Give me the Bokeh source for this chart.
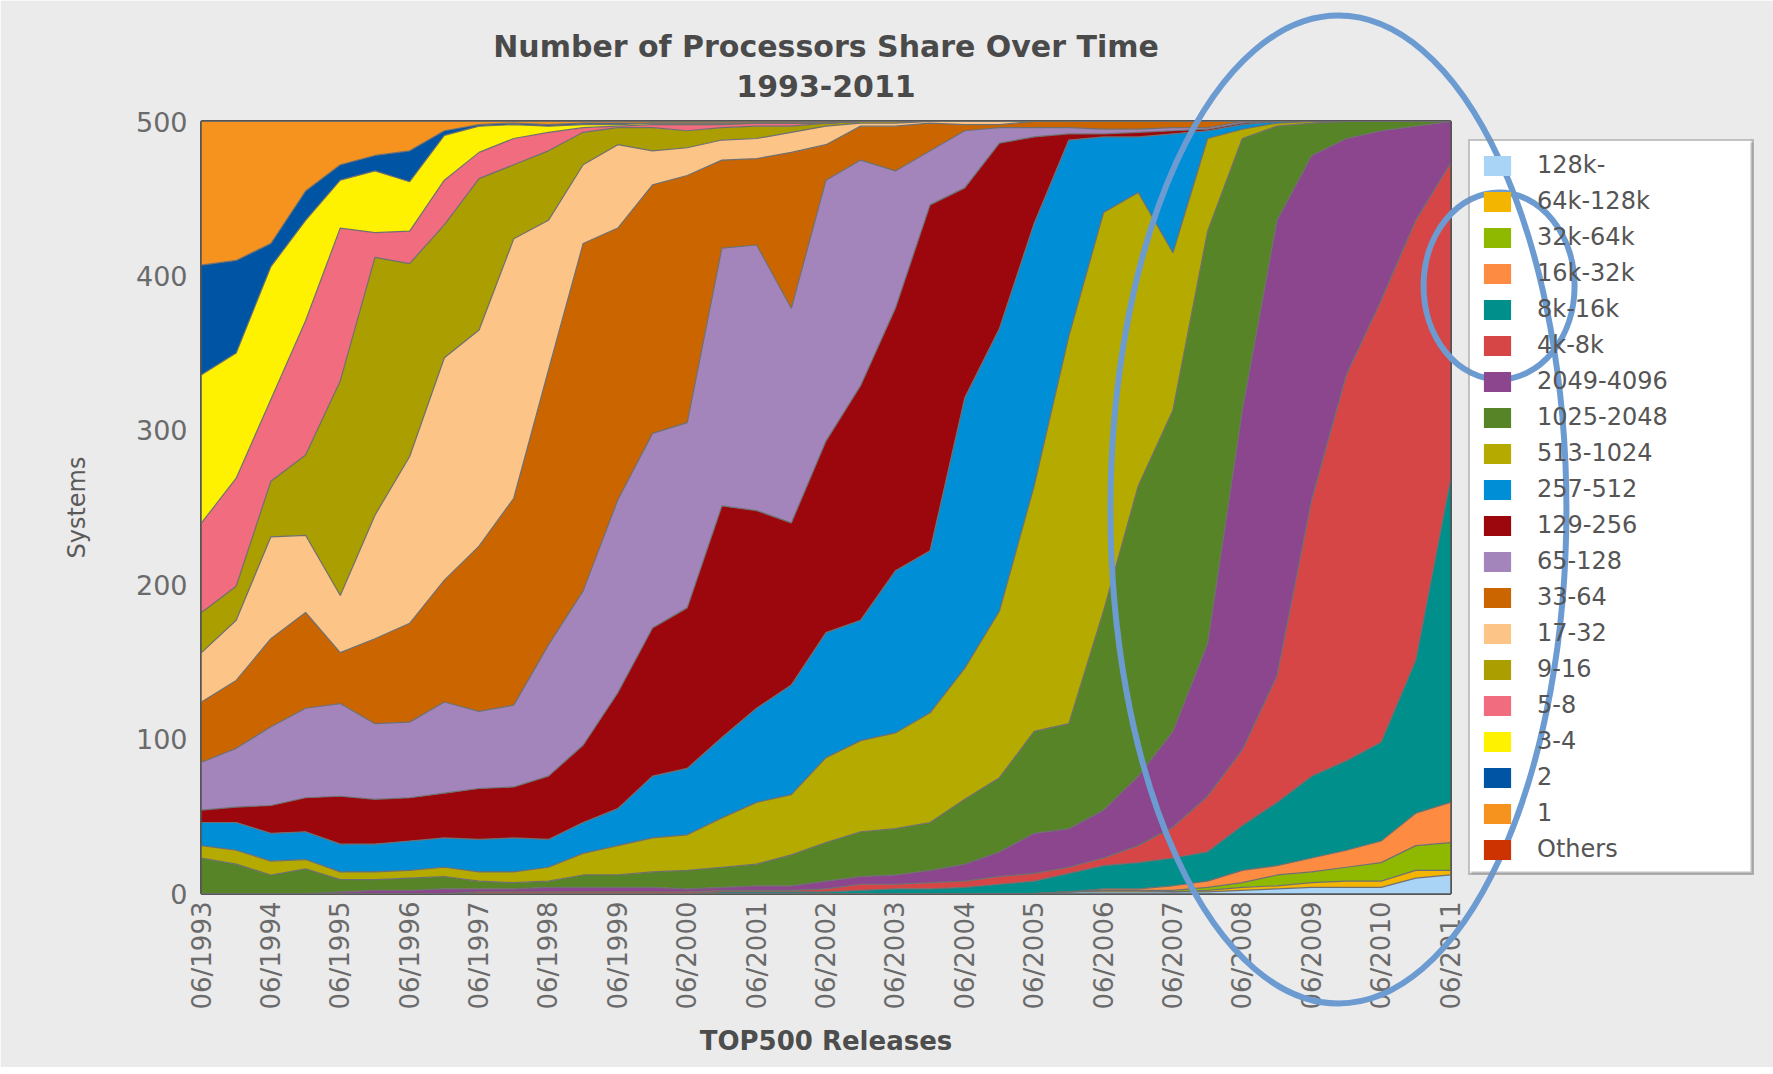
import numpy as np
from bokeh.plotting import figure
from bokeh.models import ColumnDataSource, Legend, FixedTicker, Range1d
from bokeh.core.properties import value
from bokeh.embed import file_html
from bokeh.resources import INLINE

# ---------------- data ----------------
releases = ["06/1993", "11/1993", "06/1994", "11/1994", "06/1995", "11/1995", "06/1996", "11/1996",
            "06/1997", "11/1997", "06/1998", "11/1998", "06/1999", "11/1999", "06/2000", "11/2000",
            "06/2001", "11/2001", "06/2002", "11/2002", "06/2003", "11/2003", "06/2004", "11/2004",
            "06/2005", "11/2005", "06/2006", "11/2006", "06/2007", "11/2007", "06/2008", "11/2008",
            "06/2009", "11/2009", "06/2010", "11/2010", "06/2011"]

# systems per processor-count class (stacked bottom -> top)
s_128k = [0]*25 + [1, 1, 1, 1, 1, 2, 3, 4, 4, 4, 10, 12]
s_64k_128k = [0]*25 + [0, 1, 1, 0, 1, 2, 2, 3, 4, 4, 5, 3]
s_32k_64k = [0]*25 + [0, 0, 0, 1, 2, 3, 7, 7, 9, 12, 16, 18]
s_16k_32k = [0]*25 + [0, 1, 1, 3, 4, 8, 6, 9, 11, 14, 21, 26]
s_8k_16k = [0]*15 + [1, 1, 1, 1, 2, 3, 3, 4, 6, 8, 12, 15, 17, 18, 19, 29, 41, 53, 58, 64, 99, 209]
s_4k_8k = [0]*8 + [1, 1, 1, 1, 1, 1, 1, 1, 1, 1, 2, 4, 3, 4, 4, 5, 5, 4, 5, 11, 20, 36, 49, 82,
                   179, 250, 286, 285, 205]
s_2049_4096 = [0, 0, 0, 0, 1, 2, 2, 3, 2, 2, 3, 3, 3, 3, 2, 2, 3, 3, 5, 5, 6, 8, 11, 16, 26, 25,
               31, 45, 62, 99, 220, 295, 223, 153, 110, 61, 27]
s_1025_2048 = [23, 19, 12, 16, 8, 7, 8, 8, 5, 4, 4, 8, 8, 10, 12, 13, 14, 20, 25, 29, 30, 31, 42,
               48, 66, 68, 129, 188, 208, 267, 176, 61, 21, 11, 6, 3, 0]
s_513_1024 = [8, 9, 9, 6, 5, 5, 5, 6, 6, 7, 9, 14, 19, 22, 23, 32, 40, 39, 55, 59, 62, 71, 85,
              108, 159, 251, 258, 190, 102, 60, 6, 2, 1, 0, 0, 0, 0]
s_257_512 = [15, 18, 18, 18, 18, 18, 19, 19, 21, 22, 18, 20, 24, 40, 43, 52, 61, 71, 81, 78, 105,
             105, 175, 183, 170, 127, 49, 36, 77, 5, 3, 1, 0, 0, 0, 0, 0]
s_129_256 = [8, 10, 18, 22, 31, 29, 28, 29, 33, 33, 41, 50, 75, 96, 104, 150, 128, 105, 124, 152,
             170, 224, 136, 120, 56, 4, 2, 3, 2, 1, 1, 0, 0, 0, 0, 0, 0]
s_65_128 = [31, 38, 51, 58, 60, 49, 49, 59, 50, 53, 85, 100, 125, 126, 120, 167, 172, 139, 169,
            146, 89, 35, 37, 10, 6, 4, 3, 2, 2, 1, 1, 0, 0, 0, 0, 0, 0]
s_33_64 = [39, 44, 57, 62, 33, 55, 64, 79, 107, 134, 178, 225, 176, 161, 160, 57, 56, 101, 23,
           22, 29, 18, 4, 2, 4, 4, 5, 5, 4, 4, 0, 0, 0, 0, 0, 0, 0]
s_17_32 = [32, 39, 66, 50, 37, 80, 108, 144, 140, 168, 97, 51, 54, 22, 18, 13, 13, 13, 12, 2, 2,
           1, 2, 2] + [0]*13
s_9_16 = [26, 22, 36, 52, 139, 167, 125, 86, 98, 48, 45, 21, 11, 15, 11, 8, 8, 4, 2, 1, 1] + [0]*16
s_5_8 = [58, 70, 53, 87, 99, 16, 21, 29, 17, 17, 12, 3, 1, 2, 4, 2, 2, 2] + [0]*19
s_3_4 = [96, 81, 86, 65, 31, 40, 32, 29, 17, 9, 4, 2, 1, 1, 1, 1] + [0]*21
s_2 = [71, 60, 15, 19, 10, 10, 20, 3, 1, 1, 1, 1, 1] + [0]*24
s_1 = [93, 90, 79, 45, 28, 22, 19, 6, 2, 1, 2, 1, 1, 1, 1, 1, 1, 1, 1] + [0]*18
s_others = [0]*37

series_names = ["128k-", "64k-128k", "32k-64k", "16k-32k", "8k-16k", "4k-8k", "2049-4096",
                "1025-2048", "513-1024", "257-512", "129-256", "65-128", "33-64", "17-32",
                "9-16", "5-8", "3-4", "2", "1", "Others"]
series_values = [s_128k, s_64k_128k, s_32k_64k, s_16k_32k, s_8k_16k, s_4k_8k, s_2049_4096,
                 s_1025_2048, s_513_1024, s_257_512, s_129_256, s_65_128, s_33_64, s_17_32,
                 s_9_16, s_5_8, s_3_4, s_2, s_1, s_others]
colors = ["#aad4f6", "#f3b500", "#8eb900", "#fd8c42", "#008f8a", "#d64646", "#8c468e",
          "#578427", "#b4aa00", "#008ed6", "#9c070d", "#a385bc", "#cb6500", "#fcc587",
          "#aa9e00", "#f06c7e", "#fff200", "#0054a4", "#f6921e", "#cc3300"]

title_lines = ["Number of Processors Share Over Time", "1993-2011"]

# highlight ellipses drawn over the chart: centre (release index, systems), size in pixels
ring_x = [32.77, 37.40]
ring_y = [248.7, 393.5]
ring_w = [456, 151]
ring_h = [988, 187]

FONT = "DejaVu Sans"

# ---------------- figure ----------------
data = {"x": list(range(len(releases)))}
for name, vals in zip(series_names, series_values):
    data[name] = vals
src = ColumnDataSource(data)

n = len(releases) - 1
p = figure(frame_width=1249, frame_height=772,
           x_range=Range1d(0, n), y_range=Range1d(0, 500),
           output_backend="svg", toolbar_location=None,
           min_border_left=201, min_border_right=319, min_border_top=121, min_border_bottom=174)
p.border_fill_color = "#ebebeb"
p.background_fill_color = "#ffffff"
p.outline_line_color = "#555555"
p.outline_line_width = 3
p.grid.visible = False

p.varea_stack(stackers=series_names, x="x", color=colors, source=src, legend_label=series_names)
p.vline_stack(stackers=series_names, x="x", color="#6f6f6f", line_width=1.2, source=src)

# title (drawn as overlay text centred over the frame)
p.text(x=[n / 2, n / 2], y=[500, 500], text=title_lines, y_offset=[-75, -36],
       text_font=value(FONT), text_font_size="30px", text_font_style="bold",
       text_color="#4a4a4a", text_align="center", text_baseline="middle", level="overlay")

# legend panel: soft shadow, white face (legend itself is transparent), then rings on top
px_x = 1249 / n
px_y = 772 / 500
p.rect(x=[n + 162 / px_x], y=[500 - 387 / px_y], width=[282], height=[732],
       width_units="screen", height_units="screen", fill_color="#9a9a9a", fill_alpha=0.55,
       line_color=None, level="overlay")
p.rect(x=[n + 159 / px_x], y=[500 - 384 / px_y], width=[282], height=[732],
       width_units="screen", height_units="screen", fill_color="#ffffff", line_color=None,
       level="overlay")
p.ellipse(x=ring_x, y=ring_y, width=ring_w, height=ring_h, width_units="screen",
          height_units="screen", fill_color=None, line_color="#6c9bd2", line_width=6,
          level="overlay")

# axes
p.yaxis.ticker = FixedTicker(ticks=[0, 100, 200, 300, 400, 500])
p.yaxis.major_label_text_font = FONT
p.yaxis.major_label_text_font_size = "27px"
p.yaxis.major_label_text_color = "#6a6a6a"
p.yaxis.major_label_standoff = 14
p.yaxis.axis_label = "Systems"
p.yaxis.axis_label_text_font = FONT
p.yaxis.axis_label_text_font_size = "24px"
p.yaxis.axis_label_text_font_style = "normal"
p.yaxis.axis_label_text_color = "#5a5a5a"
p.yaxis.axis_label_standoff = 42

june_idx = list(range(0, len(releases), 2))
p.xaxis.ticker = FixedTicker(ticks=june_idx)
p.xaxis.major_label_overrides = {i: releases[i] for i in june_idx}
p.xaxis.major_label_orientation = np.pi / 2
p.xaxis.major_label_text_font = FONT
p.xaxis.major_label_text_font_size = "26px"
p.xaxis.major_label_text_color = "#6a6a6a"
p.xaxis.major_label_standoff = 8
p.xaxis.axis_label = "TOP500 Releases"
p.xaxis.axis_label_text_font = FONT
p.xaxis.axis_label_text_font_size = "26px"
p.xaxis.axis_label_text_font_style = "bold"
p.xaxis.axis_label_text_color = "#4d4d4d"
p.xaxis.axis_label_standoff = 13

for ax in (p.xaxis[0], p.yaxis[0]):
    ax.axis_line_color = None
    ax.major_tick_line_color = None
    ax.minor_tick_line_color = None
    ax.major_tick_out = 0
    ax.major_tick_in = 0

# legend to the right of the frame
legend = p.legend[0]
p.center = [r for r in p.center if not isinstance(r, Legend)]
legend.location = "top_left"
legend.label_text_font = FONT
legend.label_text_font_size = "24px"
legend.label_text_color = "#555555"
legend.glyph_width = 34
legend.glyph_height = 25
legend.label_width = 205
legend.label_height = 28
legend.label_standoff = 23
legend.spacing = 8
legend.padding = 10
legend.margin = 18
legend.border_line_color = "#8a8a8a"
legend.border_line_width = 2
legend.background_fill_alpha = 0.0
p.add_layout(legend, "right")

open("out.html", "w").write(file_html(p, INLINE))
